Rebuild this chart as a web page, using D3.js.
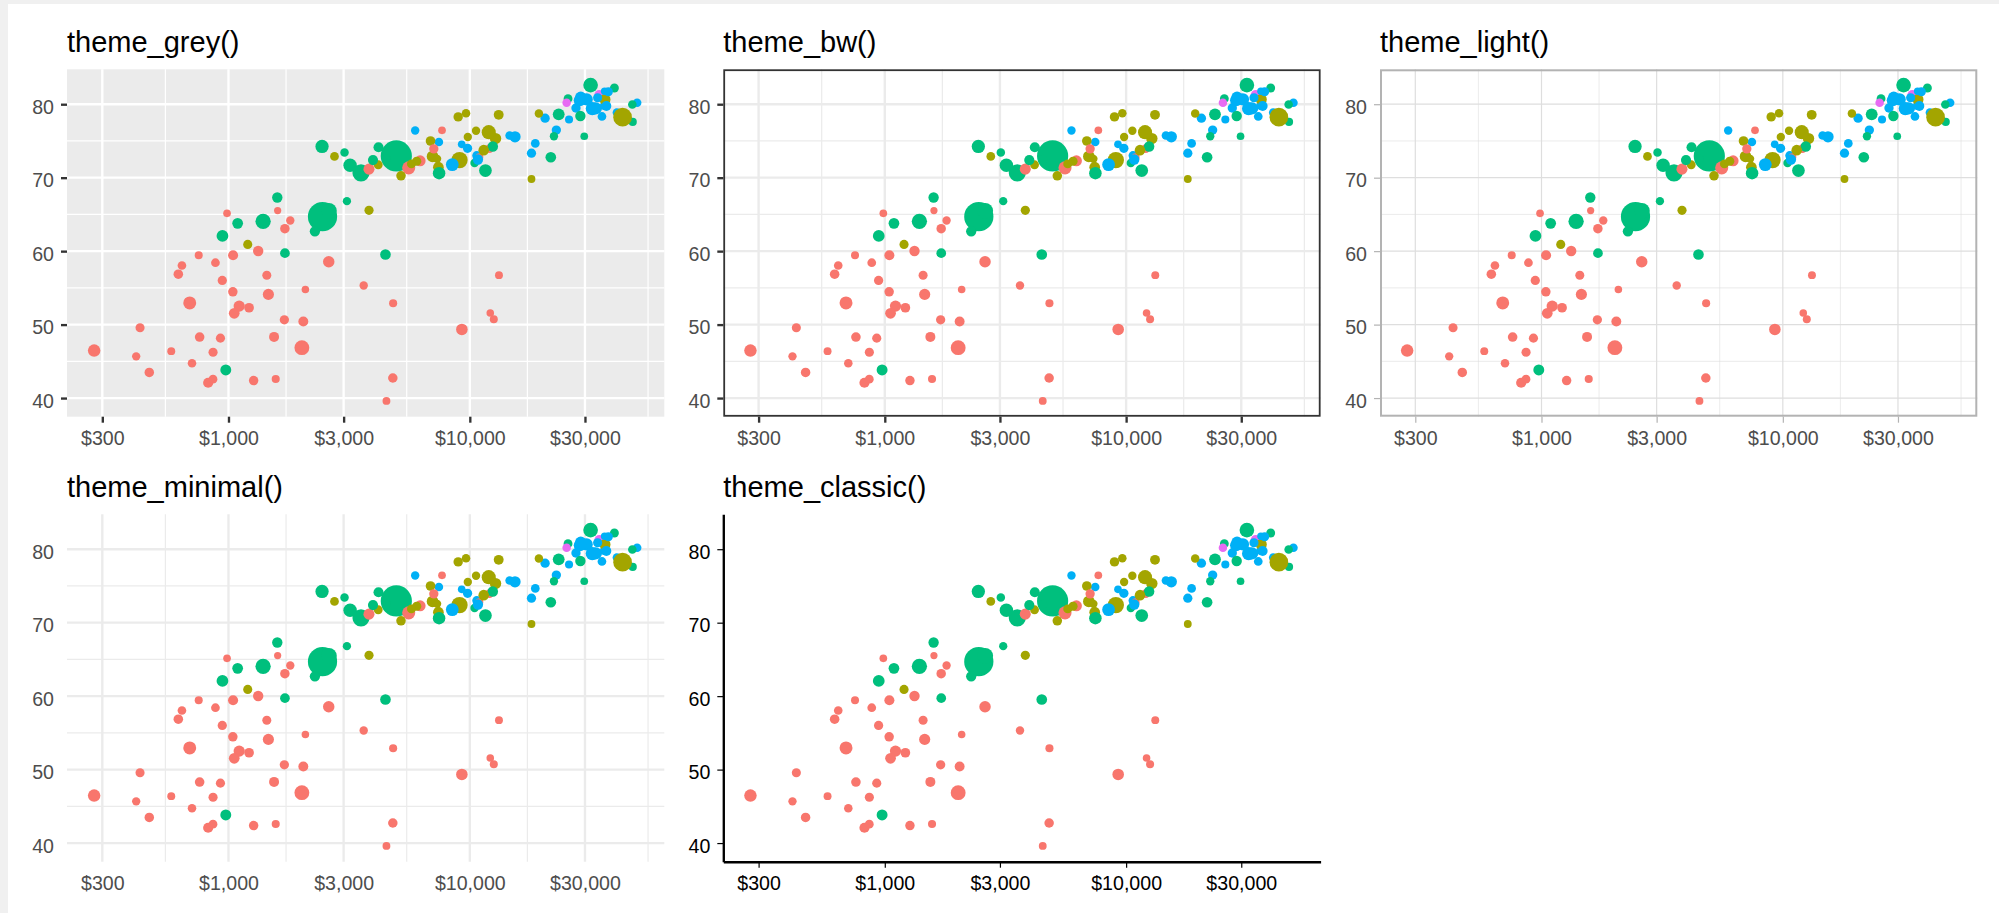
<!DOCTYPE html>
<html>
<head>
<meta charset="utf-8">
<script src="https://cdn.jsdelivr.net/npm/d3@7"></script>
<style>
  html, body { margin: 0; padding: 0; background: #f0f0f0; }
  svg { display: block; }
  text { font-family: "Liberation Sans", Arial, sans-serif; }
</style>
</head>
<body>
<svg id="chart" width="1999" height="913"></svg>
<script>
// Gapminder 2007: one entry per country, in dataset order
const country = ["Afghanistan","Albania","Algeria","Angola","Argentina","Australia","Austria","Bahrain","Bangladesh","Belgium","Benin","Bolivia","Bosnia and Herzegovina","Botswana","Brazil","Bulgaria","Burkina Faso","Burundi","Cambodia","Cameroon","Canada","Central African Republic","Chad","Chile","China","Colombia","Comoros","Congo, Dem. Rep.","Congo, Rep.","Costa Rica","Cote d'Ivoire","Croatia","Cuba","Czech Republic","Denmark","Djibouti","Dominican Republic","Ecuador","Egypt","El Salvador","Equatorial Guinea","Eritrea","Ethiopia","Finland","France","Gabon","Gambia","Germany","Ghana","Greece","Guatemala","Guinea","Guinea-Bissau","Haiti","Honduras","Hong Kong, China","Hungary","Iceland","India","Indonesia","Iran","Iraq","Ireland","Israel","Italy","Jamaica","Japan","Jordan","Kenya","Korea, Dem. Rep.","Korea, Rep.","Kuwait","Lebanon","Lesotho","Liberia","Libya","Madagascar","Malawi","Malaysia","Mali","Mauritania","Mauritius","Mexico","Mongolia","Montenegro","Morocco","Mozambique","Myanmar","Namibia","Nepal","Netherlands","New Zealand","Nicaragua","Niger","Nigeria","Norway","Oman","Pakistan","Panama","Paraguay","Peru","Philippines","Poland","Portugal","Puerto Rico","Reunion","Romania","Rwanda","Sao Tome and Principe","Saudi Arabia","Senegal","Serbia","Sierra Leone","Singapore","Slovak Republic","Slovenia","Somalia","South Africa","Spain","Sri Lanka","Sudan","Swaziland","Sweden","Switzerland","Syria","Taiwan","Tanzania","Thailand","Togo","Trinidad and Tobago","Tunisia","Turkey","Uganda","United Kingdom","United States","Uruguay","Venezuela","Vietnam","West Bank and Gaza","Yemen, Rep.","Zambia","Zimbabwe"];

const continent = ["Asia","Europe","Africa","Africa","Americas","Oceania","Europe","Asia","Asia","Europe","Africa","Americas","Europe","Africa","Americas","Europe","Africa","Africa","Asia","Africa","Americas","Africa","Africa","Americas","Asia","Americas","Africa","Africa","Africa","Americas","Africa","Europe","Americas","Europe","Europe","Africa","Americas","Americas","Africa","Americas","Africa","Africa","Africa","Europe","Europe","Africa","Africa","Europe","Africa","Europe","Americas","Africa","Africa","Americas","Americas","Asia","Europe","Europe","Asia","Asia","Asia","Asia","Europe","Asia","Europe","Americas","Asia","Asia","Africa","Asia","Asia","Asia","Asia","Africa","Africa","Africa","Africa","Africa","Asia","Africa","Africa","Africa","Americas","Asia","Europe","Africa","Africa","Asia","Africa","Asia","Europe","Oceania","Americas","Africa","Africa","Europe","Asia","Asia","Americas","Americas","Americas","Asia","Europe","Europe","Americas","Africa","Europe","Africa","Africa","Asia","Africa","Europe","Africa","Asia","Europe","Europe","Africa","Africa","Europe","Asia","Africa","Africa","Europe","Europe","Asia","Asia","Africa","Asia","Africa","Americas","Africa","Europe","Africa","Europe","Americas","Americas","Americas","Asia","Asia","Asia","Africa","Africa"];

const gdpPercap = [974.58,5937.03,6223.37,4797.23,12779.38,34435.37,36126.49,29796.05,1391.25,33692.61,1441.28,3822.14,7446.30,12569.85,9065.80,10680.79,1217.03,430.07,1713.78,2042.10,36319.24,706.02,1704.06,13171.64,4959.11,7006.58,986.15,277.55,3632.56,9645.06,1544.75,14619.22,8948.10,22833.31,35278.42,2082.48,6025.37,6873.26,5581.18,5728.35,12154.09,641.37,690.81,33207.08,30470.02,13206.48,752.75,32170.37,1327.61,27538.41,5186.05,942.65,579.23,1201.64,3548.33,39724.98,18008.94,36180.79,2452.21,3540.65,11605.71,4471.06,40676.00,25523.28,28569.72,7320.88,31656.07,4519.46,1463.25,1593.07,23348.14,47306.99,10461.06,1569.33,414.51,12057.50,1044.77,759.35,12451.66,1042.58,1803.15,10956.99,11977.57,3095.77,9253.90,3820.18,823.69,944.00,4811.06,1091.36,36797.93,25185.01,2749.32,619.68,2013.98,49357.19,22316.19,2605.95,9809.19,4172.84,7408.91,3190.48,15389.92,20509.65,19328.71,7670.12,10808.48,863.09,1598.44,21654.83,1712.47,9786.53,862.54,47143.18,18678.31,25768.26,926.14,9269.66,28821.06,3970.10,2602.39,4513.48,33859.75,37506.42,4184.55,28718.28,1107.48,7458.40,882.97,18008.51,7092.92,8458.28,1056.38,33203.26,42951.65,10611.46,11415.81,2441.58,3025.35,2280.77,1271.21,469.71];

const lifeExp = [43.828,76.423,72.301,42.731,75.320,81.235,79.829,75.635,64.062,79.441,56.728,65.554,74.852,50.728,72.390,73.005,52.295,49.580,59.723,50.430,80.653,44.741,50.651,78.553,72.961,72.889,65.152,46.462,55.322,78.782,48.328,75.748,78.273,76.486,78.332,54.791,72.235,74.994,71.338,71.878,51.579,58.040,52.947,79.313,80.657,56.735,59.448,79.406,60.022,79.483,70.259,56.007,46.388,60.916,70.198,82.208,73.338,81.757,64.698,70.650,70.964,59.545,78.885,80.745,80.546,72.567,82.603,72.535,54.110,67.297,78.623,77.588,71.993,42.592,45.678,73.952,59.443,48.303,74.241,54.467,64.164,72.801,76.195,66.803,74.543,71.164,42.082,62.069,52.906,63.785,79.762,80.204,72.899,56.867,46.859,80.196,75.640,65.483,75.537,71.752,71.421,71.688,75.563,78.098,78.746,76.442,72.476,46.242,65.528,72.777,63.062,74.002,42.568,79.972,74.663,77.926,48.159,49.339,80.941,72.396,58.556,39.613,80.884,81.701,74.143,78.400,52.517,70.616,58.420,69.819,73.923,71.777,51.542,79.425,78.242,76.384,73.747,74.249,73.422,62.698,42.384,43.487];

// population in millions
const popMillions = [31.890,3.601,33.333,12.420,40.302,20.434,8.200,0.709,150.448,10.392,8.078,9.119,4.552,1.639,190.011,7.323,14.326,8.391,14.132,17.696,33.390,4.369,10.239,16.285,1318.683,44.228,0.711,64.607,3.801,4.134,18.013,4.493,11.417,10.229,5.468,0.496,9.320,13.756,80.265,6.940,0.551,4.907,76.512,5.238,61.084,1.455,1.688,82.401,22.873,10.706,12.573,9.948,1.472,8.503,7.484,6.980,9.956,0.302,1110.396,223.547,69.454,27.500,4.109,6.427,58.148,2.780,127.468,6.053,35.610,23.302,49.045,2.506,3.921,2.013,3.194,6.037,19.168,13.327,24.821,12.032,3.270,1.251,108.701,2.874,0.685,33.757,19.952,47.762,2.055,28.902,16.571,4.116,5.675,12.895,135.031,4.628,3.205,169.271,3.242,6.667,28.675,91.077,38.518,10.643,3.942,0.798,22.276,8.861,0.200,27.601,12.267,10.150,6.145,4.553,5.448,2.009,9.119,43.998,40.448,20.378,42.293,1.133,9.031,7.555,19.315,23.174,38.140,65.068,5.702,1.057,10.276,71.159,29.170,60.776,301.140,3.447,26.085,85.262,4.018,22.212,11.746,12.311];

const continents = ["Africa", "Americas", "Asia", "Europe", "Oceania"];
const continentColors = ["#F8766D", "#A3A500", "#00BF7D", "#00B0F6", "#E76BF3"];

const xTickValues = [300, 1000, 3000, 10000, 30000];
const xTickLabels = ["$300", "$1,000", "$3,000", "$10,000", "$30,000"];
const yTickValues = [40, 50, 60, 70, 80];

const panelTitles = ["theme_grey()", "theme_bw()", "theme_light()", "theme_minimal()", "theme_classic()"];
const panelThemes = ["grey", "bw", "light", "minimal", "classic"];

// ---- layout ----
const W = 1999, H = 913;
const colLeft = [67, 723.3, 1380];
const rowTop = [69.3, 514.3];
const PW = 597.3, PH = 347.4;
const FONT_AXIS = 19.6, FONT_TITLE = 29;

// ---- theme styles ----
const themeStyle = {
  grey:    { bg: "#EBEBEB", grid: "#FFFFFF", majorW: 2.35, minorW: 1.2, border: null, tick: "#333333", tickW: 2.35, text: "#4D4D4D", axisLine: null },
  bw:      { bg: "#FFFFFF", grid: "#EBEBEB", majorW: 2.35, minorW: 1.2, border: "#333333", borderW: 1.8, tick: "#333333", tickW: 2.35, text: "#4D4D4D", axisLine: null },
  light:   { bg: "#FFFFFF", grid: "#DEDEDE", majorW: 1.2, minorW: 0.6, border: "#B3B3B3", borderW: 2.0, tick: "#B3B3B3", tickW: 1.2, text: "#4D4D4D", axisLine: null },
  minimal: { bg: null, grid: "#EBEBEB", majorW: 2.35, minorW: 1.2, border: null, tick: null, text: "#4D4D4D", axisLine: null },
  classic: { bg: null, grid: null, border: null, tick: "#000000", tickW: 1.2, text: "#000000", axisLine: "#000000", axisLineW: 2.35 }
};

// ---- data table ----
const rows = country.map((c, i) => ({
  country: c, continent: continent[i], gdp: gdpPercap[i], life: lifeExp[i], pop: popMillions[i]
}));

// continuous-scale limits with 5% expansion on each side
const lgdp = d3.extent(gdpPercap).map(Math.log10);
const gpad = 0.05 * (lgdp[1] - lgdp[0]);
const xDomain = [Math.pow(10, lgdp[0] - gpad), Math.pow(10, lgdp[1] + gpad)];
const lex = d3.extent(lifeExp);
const lpad = 0.05 * (lex[1] - lex[0]);
const yDomain = [lex[0] - lpad, lex[1] + lpad];

const color = d3.scaleOrdinal().domain(continents).range(continentColors);
// point size: area-proportional on rescaled population
const popNorm = d3.scaleLinear().domain(d3.extent(popMillions)).range([0, 1]);
const radius = d3.scaleLinear().domain([0, 1]).range([3.6, 15.6]);

// minor breaks: midpoints between (transformed) major breaks, extended one step at each end
function minorBreaks(major, domain, fwd, inv) {
  const b = major.map(fwd);
  const lo = fwd(domain[0]), hi = fwd(domain[1]);
  const bd = b[1] - b[0];
  if (lo < b[0]) b.unshift(b[0] - bd);
  if (hi > b[b.length - 1]) b.push(b[b.length - 1] + bd);
  const mids = [];
  for (let i = 0; i < b.length - 1; i++) mids.push((b[i] + b[i + 1]) / 2);
  return mids.filter(m => m >= lo && m <= hi).map(inv);
}
const xMinor = minorBreaks(xTickValues, xDomain, Math.log10, v => Math.pow(10, v));
const yMinor = minorBreaks(yTickValues, yDomain, v => v, v => v);

const svg = d3.select("#chart");
svg.append("rect").attr("width", W).attr("height", H).attr("fill", "#f0f0f0");
svg.append("rect").attr("x", 8).attr("y", 4).attr("width", W - 8).attr("height", H - 4).attr("fill", "#ffffff");

const defs = svg.append("defs");

panelThemes.forEach((tname, k) => {
  const st = themeStyle[tname];
  const left = colLeft[k % 3], top = rowTop[Math.floor(k / 3)];
  const x = d3.scaleLog().domain(xDomain).range([left, left + PW]);
  const y = d3.scaleLinear().domain(yDomain).range([top + PH, top]);

  const g = svg.append("g").attr("class", "panel-" + tname);

  // title
  g.append("text")
    .attr("x", left).attr("y", top - 17)
    .attr("font-size", FONT_TITLE).attr("fill", "#000000")
    .text(panelTitles[k]);

  // background
  if (st.bg) {
    g.append("rect").attr("x", left).attr("y", top).attr("width", PW).attr("height", PH).attr("fill", st.bg);
  }

  // grid
  if (st.grid) {
    const grid = g.append("g").attr("stroke", st.grid).attr("fill", "none");
    grid.selectAll(".vminor").data(xMinor).join("line")
      .attr("x1", d => x(d)).attr("x2", d => x(d)).attr("y1", top).attr("y2", top + PH)
      .attr("stroke-width", st.minorW);
    grid.selectAll(".hminor").data(yMinor).join("line")
      .attr("x1", left).attr("x2", left + PW).attr("y1", d => y(d)).attr("y2", d => y(d))
      .attr("stroke-width", st.minorW);
    grid.selectAll(".vmajor").data(xTickValues).join("line")
      .attr("x1", d => x(d)).attr("x2", d => x(d)).attr("y1", top).attr("y2", top + PH)
      .attr("stroke-width", st.majorW);
    grid.selectAll(".hmajor").data(yTickValues).join("line")
      .attr("x1", left).attr("x2", left + PW).attr("y1", d => y(d)).attr("y2", d => y(d))
      .attr("stroke-width", st.majorW);
  }

  // points, clipped to the panel
  const clipId = "clip-" + tname;
  defs.append("clipPath").attr("id", clipId)
    .append("rect").attr("x", left).attr("y", top).attr("width", PW).attr("height", PH);
  g.append("g").attr("clip-path", `url(#${clipId})`)
    .selectAll("circle").data(rows).join("circle")
      .attr("cx", d => x(d.gdp))
      .attr("cy", d => y(d.life))
      .attr("r", d => radius(Math.sqrt(popNorm(d.pop))))
      .attr("fill", d => color(d.continent));

  // border
  if (st.border) {
    const inset = st.borderW / 2;
    g.append("rect")
      .attr("x", left + inset).attr("y", top + inset)
      .attr("width", PW - 2 * inset).attr("height", PH - 2 * inset)
      .attr("fill", "none").attr("stroke", st.border).attr("stroke-width", st.borderW);
  }

  // axes
  const tickLen = st.tick ? 6 : 0;
  const xAxis = d3.axisBottom(x).tickValues(xTickValues)
    .tickFormat((d, i) => xTickLabels[i])
    .tickSize(tickLen).tickSizeOuter(0).tickPadding(8.4 + (6 - tickLen));
  const yAxis = d3.axisLeft(y).tickValues(yTickValues)
    .tickFormat(d => String(d))
    .tickSize(tickLen).tickSizeOuter(0).tickPadding(7 + (6 - tickLen));

  const gx = g.append("g").attr("transform", `translate(0,${top + PH})`).call(xAxis);
  const gy = g.append("g").attr("transform", `translate(${left},0)`).call(yAxis);

  [gx, gy].forEach(ax => {
    ax.attr("font-family", null).attr("font-size", null);
    ax.selectAll("text").attr("font-size", FONT_AXIS).attr("fill", st.text);
    ax.selectAll(".tick line")
      .attr("stroke", st.tick || "none")
      .attr("stroke-width", st.tickW || 0);
    if (st.axisLine) {
      ax.select(".domain").attr("stroke", st.axisLine).attr("stroke-width", st.axisLineW);
    } else {
      ax.select(".domain").remove();
    }
  });
  gy.selectAll("text").attr("dy", "0.47em");
});
</script>
</body>
</html>
